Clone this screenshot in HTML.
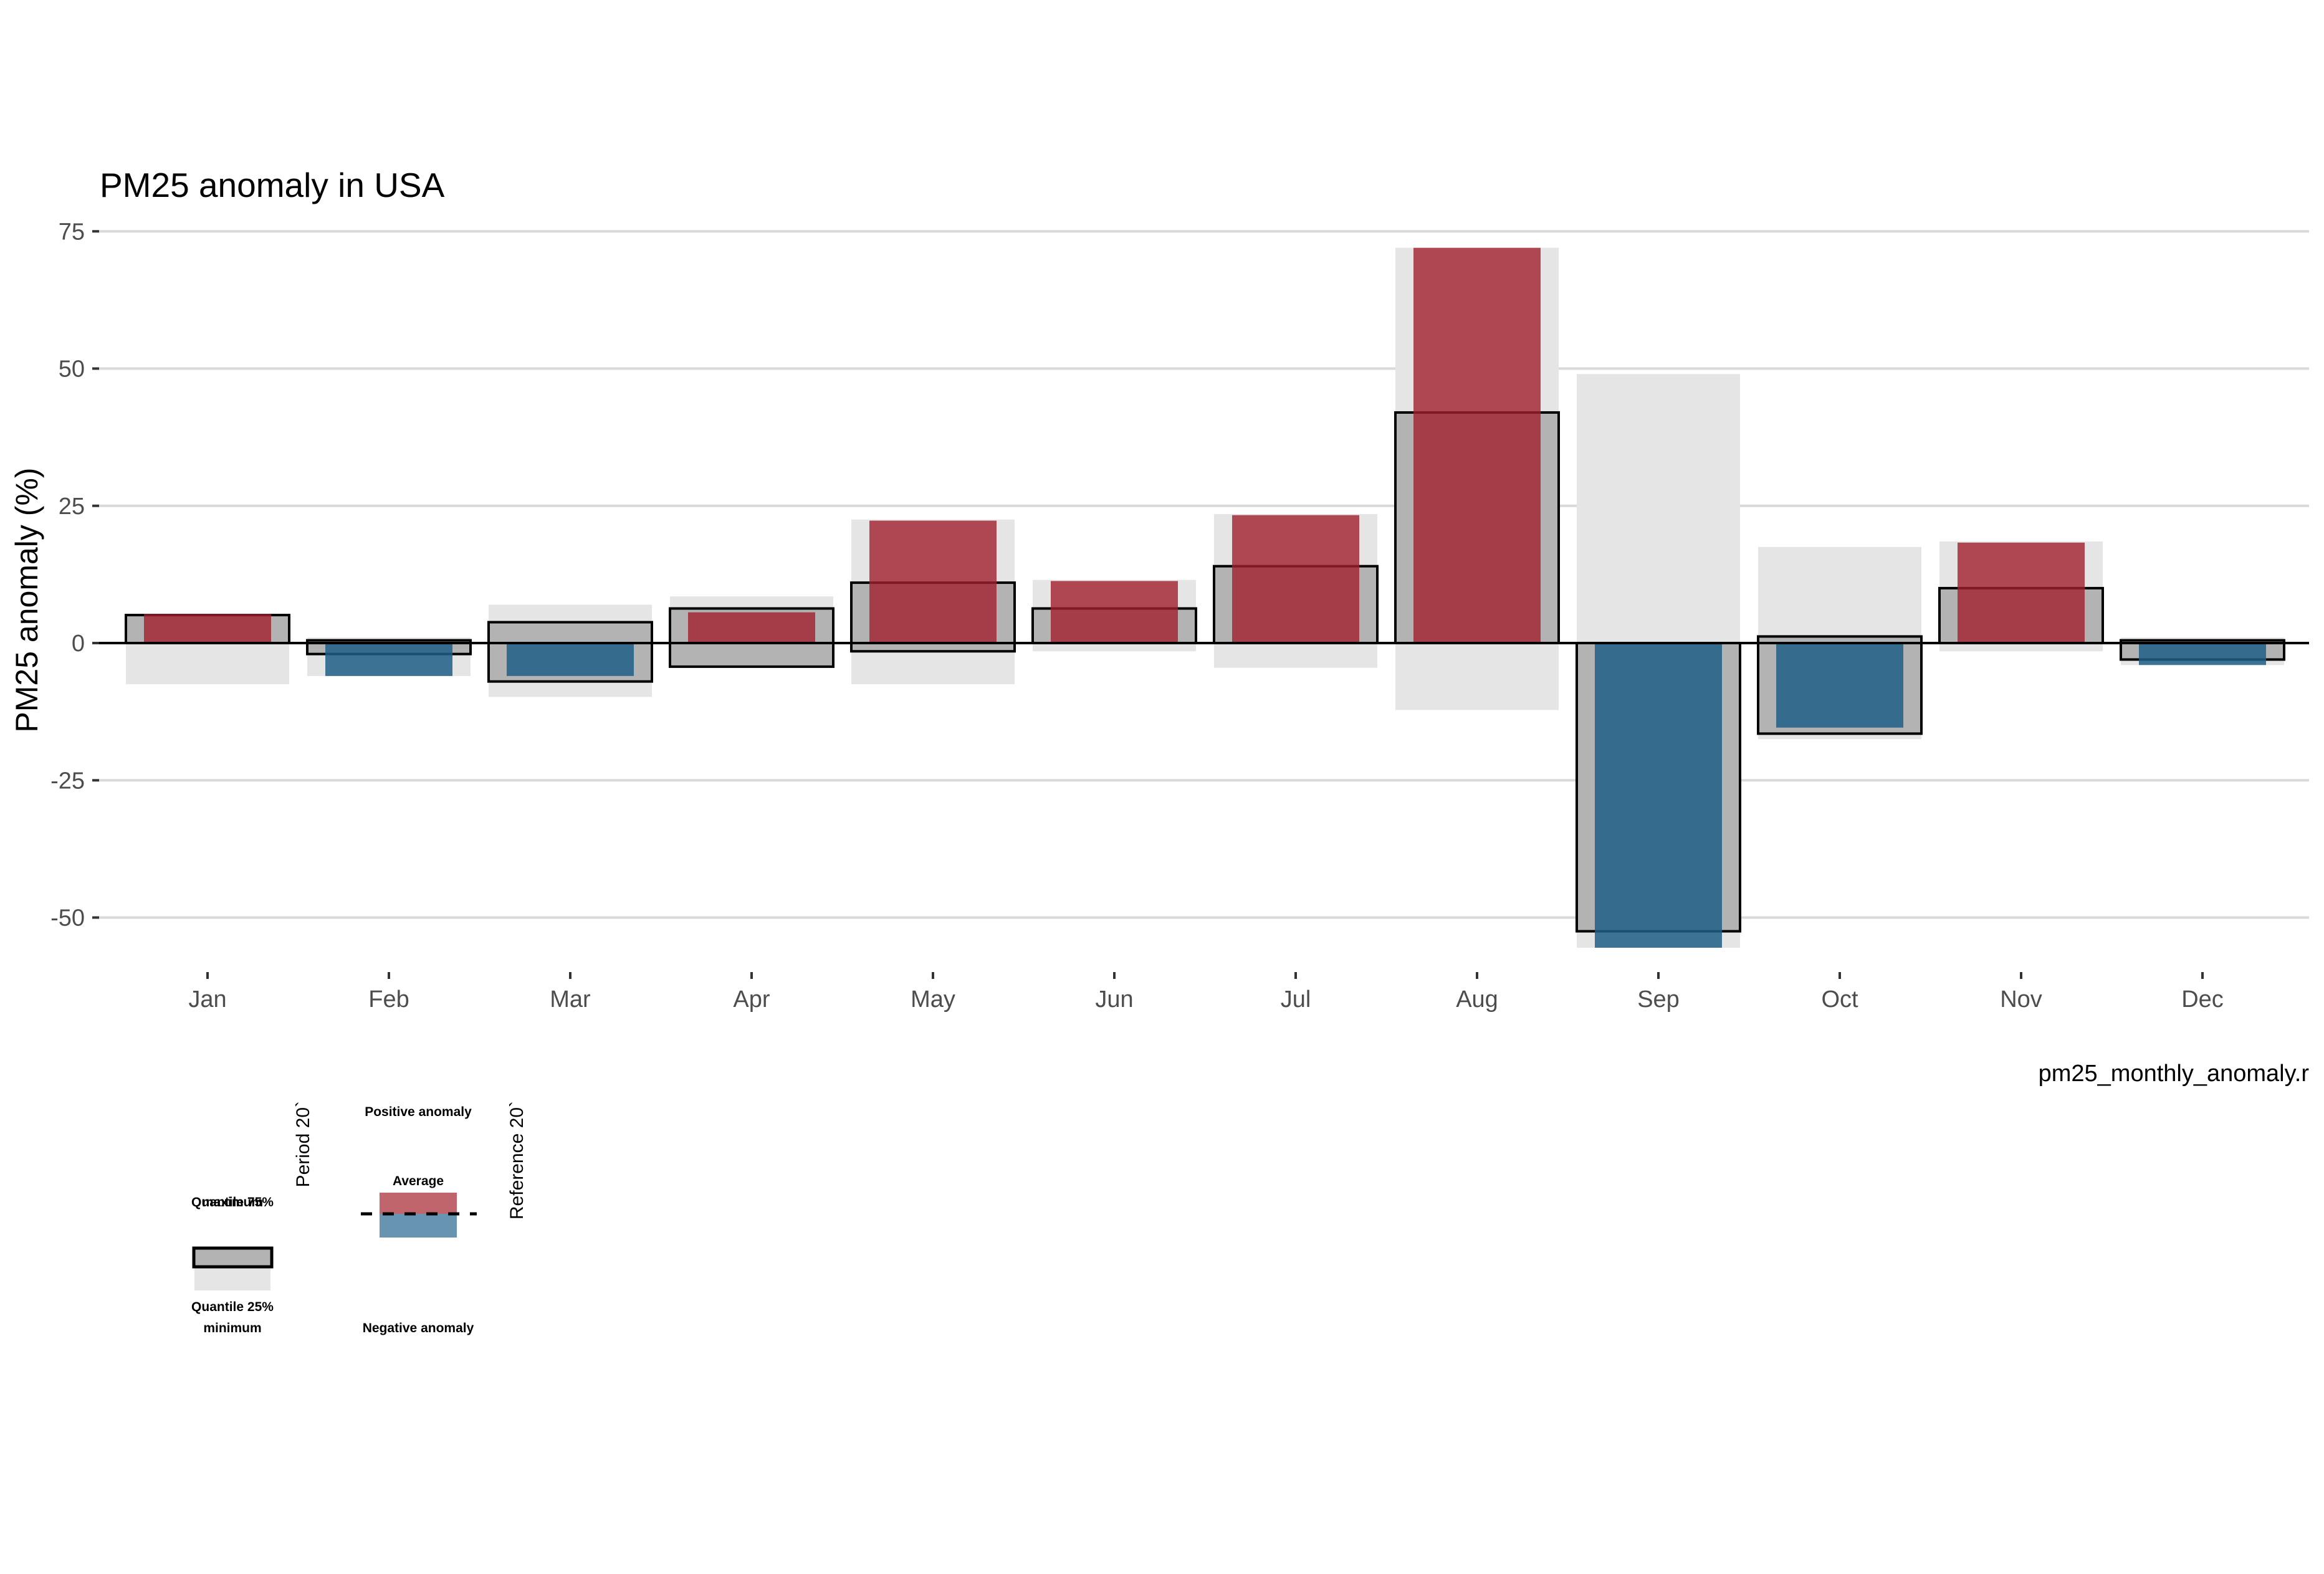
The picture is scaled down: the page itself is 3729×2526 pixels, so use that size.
<!DOCTYPE html>
<html><head><meta charset="utf-8"><style>
html,body{margin:0;padding:0;background:#fff}
svg{display:block;font-family:"Liberation Sans",sans-serif}
</style></head><body>
<svg id="chart" width="3729" height="2526" viewBox="0 0 3729 2526" xmlns="http://www.w3.org/2000/svg">
<text x="160" y="316" font-size="55" fill="#000">PM25 anomaly in USA</text>
<text transform="translate(60,963) rotate(-90)" text-anchor="middle" font-size="50" fill="#000">PM25 anomaly (%)</text>
<g id="grid"></g>
<g id="marks"></g>
<g id="xaxis"></g>
<text x="3705" y="1735" text-anchor="end" font-size="38" fill="#000">pm25_monthly_anomaly.r</text>
<g>
<text transform="translate(496,1767) rotate(-90)" text-anchor="end" font-size="30">Period 20`</text>
<text transform="translate(839,1767) rotate(-90)" text-anchor="end" font-size="30">Reference 20`</text>
<rect x="312" y="2033" width="122" height="38" fill="#e5e5e5"/>
<rect x="311" y="2003" width="125" height="30" fill="#b3b3b3" stroke="#000" stroke-width="5"/>
<g font-weight="bold" font-size="21" text-anchor="middle">
<text x="373" y="1936">Quantile 75%</text>
<text x="373" y="1936">maximum</text>
<text x="373" y="2104">Quantile 25%</text>
<text x="373" y="2138">minimum</text>
<text x="671" y="1791">Positive anomaly</text>
<text x="671" y="1902">Average</text>
<text x="671" y="2138">Negative anomaly</text>
</g>
<rect x="609" y="1914" width="124" height="34" fill="#c0656c"/>
<rect x="609" y="1948" width="124" height="38" fill="#6794b1"/>
<line x1="579" y1="1948" x2="765" y2="1948" stroke="#000" stroke-width="5" stroke-dasharray="18,17"/>
</g>
</svg>
<script>
const months = ["Jan","Feb","Mar","Apr","May","Jun","Jul","Aug","Sep","Oct","Nov","Dec"];
const rangeMin = [-7.5,-6,-9.8,-4.5,-7.5,-1.5,-4.5,-12.2,-55.5,-17.5,-1.5,-4];
const rangeMax = [5,1,7,8.5,22.5,11.5,23.5,72,49,17.5,18.5,1];
const q25 = [0,-2,-7,-4.3,-1.5,0,0,0,-52.5,-16.5,0,-3];
const q75 = [5.1,0.5,3.8,6.3,11,6.3,14,42,0,1.2,10,0.5];
const anomaly = [5.3,-6,-6,5.6,22.3,11.3,23.3,72,-55.5,-15.4,18.3,-4];
const yTicks = [75,50,25,0,-25,-50];
const NS="http://www.w3.org/2000/svg";
const y = v => 1032 - v*8.81;
const x = i => 333 + 291*i;
function mk(tag, attrs, parent){const e=document.createElementNS(NS,tag);for(const k in attrs)e.setAttribute(k,attrs[k]);parent.appendChild(e);return e;}
const grid=document.getElementById('grid'), marks=document.getElementById('marks'), xa=document.getElementById('xaxis');
yTicks.forEach(t=>{
  const l=mk('line',{x1:159,x2:3705,y1:y(t),y2:y(t),stroke:'#d9d9d9','stroke-width':4},grid);
  
  
  const tk=mk('line',{x1:148,x2:159,y1:y(t),y2:y(t),stroke:'#333','stroke-width':4},grid);
  
  
  const tx=mk('text',{x:136,y:y(t)+13,'text-anchor':'end','font-size':38,fill:'#4d4d4d'},grid);
  tx.textContent=t;
  
  
});
months.forEach((m,i)=>{
  const cx=x(i);
  const b=mk('rect',{x:cx-131,width:262,y:y(rangeMax[i]),height:y(rangeMin[i])-y(rangeMax[i]),fill:'#e5e5e5'},marks);
  
  
  const q=mk('rect',{x:cx-131,width:262,y:y(q75[i]),height:y(q25[i])-y(q75[i]),fill:'#b3b3b3',stroke:'#000','stroke-width':4},marks);
  
  
  const a=anomaly[i];
  const r=mk('rect',{x:cx-102,width:204,y:Math.min(y(a),y(0)),height:Math.abs(y(a)-y(0)),fill:a>=0?'rgb(160,31,45)':'rgb(30,95,135)','fill-opacity':a>=0?0.8:0.85},marks);
  
  
  const tk=mk('line',{x1:cx,x2:cx,y1:1560,y2:1571,stroke:'#333','stroke-width':4},xa);
  
  
  const tx=mk('text',{x:cx,y:1616,'text-anchor':'middle','font-size':38,fill:'#4d4d4d'},xa);
  tx.textContent=m;
  
  
});
const z=mk('line',{x1:159,x2:3705,y1:y(0),y2:y(0),stroke:'#000','stroke-width':4},marks);


</script>
</body></html>
